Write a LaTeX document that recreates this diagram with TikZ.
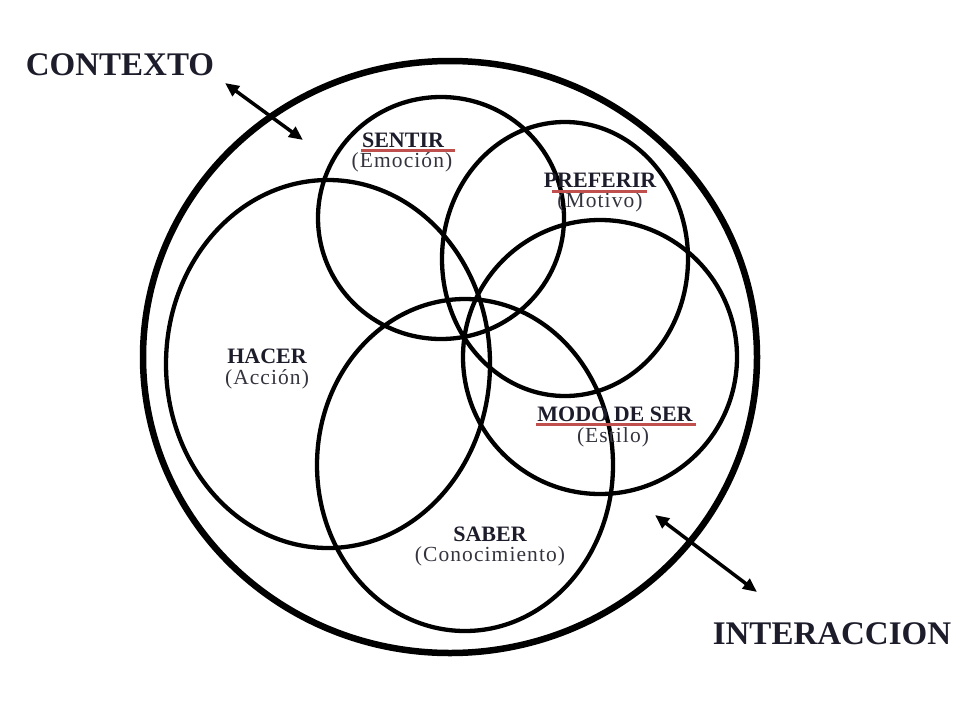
\documentclass[tikz,border=0pt]{standalone}
\usepackage{fontspec}
\setmainfont{Liberation Serif}
\usetikzlibrary{arrows.meta}
\definecolor{txt}{HTML}{1C1C2A}
\definecolor{subtxt}{HTML}{34343F}
\definecolor{redline}{HTML}{C0504D}
\tikzset{
  outerring/.style={line width=6.5pt},
  setring/.style={line width=4.3pt},
  bigtitle/.style={anchor=base, text=txt, font=\fontsize{33}{36}\selectfont\bfseries, inner sep=0pt},
  setname/.style={anchor=base, text=txt, font=\fontsize{22}{24}\selectfont\bfseries, inner sep=0pt},
  setsub/.style={anchor=base, text=subtxt, font=\fontsize{21.5}{24}\selectfont\addfontfeatures{LetterSpace=5}, inner sep=0pt},
  uline/.style={redline, line width=3pt},
  dblarrow/.style={line width=3.5pt, {Triangle[length=14pt,width=12pt]}-{Triangle[length=14pt,width=12pt]}}
}
\begin{document}
\begin{tikzpicture}[x=1pt,y=-1pt]
\useasboundingbox (0,0) rectangle (960,720);
% outer ring
\draw[outerring] (450,357) ellipse [x radius=307, y radius=296];
% set circles
\draw[setring] (441,218) ellipse [x radius=123, y radius=121];
\draw[setring] (565,259) ellipse [x radius=123, y radius=137];
\draw[setring] (600,357) ellipse [x radius=137, y radius=137];
\draw[setring] (328,364) ellipse [x radius=162, y radius=184];
\draw[setring] (465,465) ellipse [x radius=148, y radius=166];
% titles
\node[bigtitle] (contexto) at (120,75) {CONTEXTO};
\node[bigtitle] (interaccion) at (832,644) {INTERACCION};
% arrows
\coordinate (ca) at (225,83);
\coordinate (cb) at (303,140);
\coordinate (ia) at (655,515);
\coordinate (ib) at (757,592);
\draw[dblarrow] (ca) -- (cb);
\draw[dblarrow] (ia) -- (ib);
% labels
\node[setname] (sentir) at (403,147) {SENTIR};
\node[setsub] (emocion) at (402,167) {(Emoción)};
\node[setname] (preferir) at (600,187) {PREFERIR};
\node[setsub] (motivo) at (600,207) {(Motivo)};
\node[setname] (modo) at (615,421) {MODO DE SER};
\node[setsub] (estilo) at (613,442) {(Estilo)};
\node[setname] (hacer) at (267,363) {HACER};
\node[setsub] (accion) at (267,384) {(Acción)};
\node[setname] (saber) at (490,541) {SABER};
\node[setsub] (conoc) at (490,561) {(Conocimiento)};
% red underlines
\coordinate (s1) at (361,150); \coordinate (s2) at (455,150);
\coordinate (p1) at (552,191); \coordinate (p2) at (647,191);
\coordinate (m1) at (536,424); \coordinate (m2) at (696,424);
\draw[uline] (s1) -- (s2);
\draw[uline] (p1) -- (p2);
\draw[uline] (m1) -- (m2);
\end{tikzpicture}
\end{document}
